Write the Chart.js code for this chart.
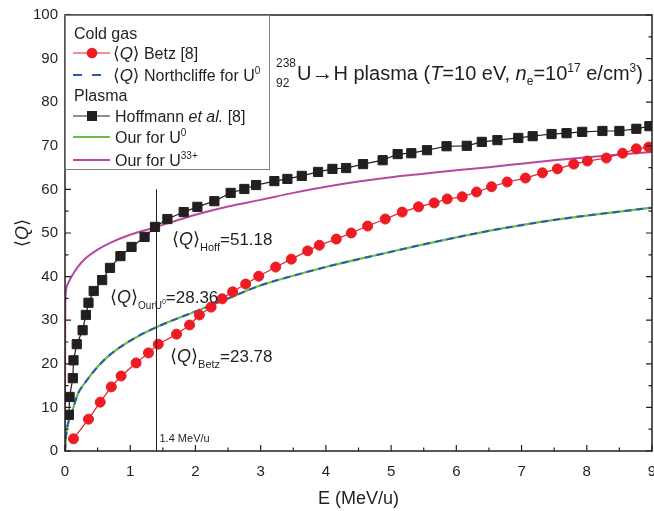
<!DOCTYPE html>
<html><head><meta charset="utf-8">
<script src="https://cdn.jsdelivr.net/npm/chart.js@4.4.1/dist/chart.umd.min.js"></script>
<style>html,body{margin:0;padding:0;background:#fff;}#wrap{width:654px;height:511px;}</style>
</head><body><div id="wrap"><canvas id="c" width="654" height="511"></canvas></div>
<script>
// ---- data ----
const betzE = [0.13,0.36,0.54,0.71,0.86,1.09,1.28,1.43,1.71,1.91,2.06,2.24,2.41,2.57,2.77,2.97,3.23,3.47,3.72,3.90,4.16,4.39,4.64,4.91,5.17,5.42,5.66,5.86,6.09,6.31,6.54,6.78,7.06,7.32,7.55,7.80,8.01,8.30,8.55,8.76,8.95];
const betzQ = [2.8,7.3,11.2,14.7,17.2,20.2,22.5,24.5,26.8,28.9,31.2,33.0,34.9,36.5,38.3,40.1,42.2,44.0,45.9,47.2,48.6,50.0,51.6,53.2,54.8,56.0,56.9,57.8,58.3,59.4,60.6,61.7,62.6,63.8,64.7,65.8,66.5,67.2,68.3,69.3,69.7];
const hoffE = [0.06,0.07,0.12,0.13,0.18,0.27,0.32,0.36,0.44,0.57,0.69,0.85,1.02,1.22,1.38,1.57,1.82,2.03,2.29,2.54,2.75,2.93,3.21,3.41,3.63,3.88,4.10,4.31,4.57,4.87,5.10,5.31,5.55,5.85,6.16,6.39,6.63,6.95,7.17,7.46,7.69,7.93,8.24,8.50,8.76,8.96];
const hoffQ = [8.3,12.4,16.7,20.8,24.5,27.7,31.2,34.0,36.7,39.2,42.0,44.7,46.8,49.1,51.4,53.2,54.8,56.0,57.3,59.2,60.1,61.0,61.9,62.4,63.1,64.0,64.7,64.9,65.8,66.7,68.1,68.3,69.0,69.9,70.0,70.9,71.3,71.8,72.2,72.7,72.9,73.2,73.4,73.4,73.9,74.5];
const northE = [0,0.02,0.05,0.1,0.2,0.3,0.5,0.7,1.0,1.4,2.0,2.5,3.0,3.5,4.0,4.5,5.0,5.5,6.0,6.5,7.0,7.5,8.0,8.5,9.0];
const northQ = [0,4,6.5,8.6,13.2,15.5,19.3,22.2,25.3,28.4,32,35,38,40.2,42.2,44,45.7,47.4,49,50.5,51.8,53,54,54.9,55.8];
const ourU0E = [0,0.02,0.05,0.1,0.2,0.3,0.5,0.7,1.0,1.4,2.0,2.5,3.0,3.5,4.0,4.5,5.0,5.5,6.0,6.5,7.0,7.5,8.0,8.5,9.0];
const ourU0Q = [0,4,6.5,8.6,13.2,15.5,19.3,22.2,25.3,28.4,32,35,38,40.2,42.2,44,45.7,47.4,49,50.5,51.8,53,54,54.9,55.8];
const ourU33E = [0,0.003,0.01,0.05,0.1,0.2,0.3,0.5,0.7,1.0,1.4,2.0,2.5,3.0,3.5,4.0,4.5,5.0,5.5,6.0,6.5,7.0,7.5,8.0,8.5,9.0];
const ourU33Q = [4,30,36,38.5,40,42.3,44,46.2,47.8,49.6,51.4,54.2,56.1,57.6,59.2,60.6,61.8,62.8,63.6,64.4,65.1,65.9,66.7,67.4,68,68.6];
const xTickVals = [0,1,2,3,4,5,6,7,8,9];
const yTickVals = [0,10,20,30,40,50,60,70,80,90,100];
const markE = 1.4, markTop = 60;
const hoffAtMark = 51.18, ourAtMark = 28.36, betzAtMark = 23.78;

const FONT = '"Liberation Sans", Arial, "DejaVu Sans", sans-serif';
const C = {red:'#ed1c24', blue:'#2b59b0', green:'#6abd45', mag:'#b8489f', blk:'#231f20'};
const zip = (a,b)=>a.map((v,i)=>({x:v,y:b[i]}));

function runs(ctx, x, y, parts){
  let cx = x;
  for (const p of parts){
    if (p.stack){
      let w = 0;
      for (const q of p.stack){ ctx.font=(q.i?'italic ':'')+q.s+'px '+FONT; ctx.fillText(q.t,cx,y+(q.dy||0)); w=Math.max(w,ctx.measureText(q.t).width); }
      cx += w + (p.dx||0); continue;
    }
    ctx.font=(p.i?'italic ':'')+p.s+'px '+FONT;
    ctx.fillText(p.t,cx,y+(p.dy||0));
    cx += ctx.measureText(p.t).width + (p.dx||0);
  }
  return cx;
}
function widthOf(ctx, parts){
  let w=0; for(const p of parts){ctx.font=(p.i?'italic ':'')+p.s+'px '+FONT; w+=ctx.measureText(p.t).width+(p.dx||0);} return w;
}
const Qb = (s)=>[{t:'\u27E8',s:s},{t:'Q',s:s,i:true},{t:'\u27E9',s:s}];

const decor = {
  id:'decor',
  afterDatasetsDraw(chart){
    const {ctx, scales:{x,y}} = chart;
    ctx.save();
    ctx.strokeStyle = C.blk; ctx.lineWidth = 1;
    const px = Math.round(x.getPixelForValue(markE))+0.5;
    ctx.beginPath(); ctx.moveTo(px, y.getPixelForValue(0)); ctx.lineTo(px, y.getPixelForValue(markTop)); ctx.stroke();
    ctx.fillStyle = C.blk; ctx.textBaseline='alphabetic'; ctx.textAlign='left';
    runs(ctx, px+3, 442, [{t:markE+' MeV/u', s:11}]);
    runs(ctx, 172, 245, [...Qb(18), {t:'Hoff',s:11,dy:6}, {t:'='+hoffAtMark.toFixed(2),s:17}]);
    runs(ctx, 110, 303, [...Qb(18), {t:'OurU',s:10,dy:6}, {t:'0',s:7,dy:1}, {t:'='+ourAtMark.toFixed(2),s:17}]);
    runs(ctx, 170, 362, [...Qb(18), {t:'Betz',s:11,dy:6}, {t:'='+betzAtMark.toFixed(2),s:17}]);
    ctx.restore();
  },
  afterDraw(chart){
    const {ctx, chartArea:a, scales:{x,y}} = chart;
    ctx.save();
    // frame
    ctx.strokeStyle = C.blk; ctx.lineWidth = 1.5;
    ctx.strokeRect(a.left, a.top, a.right-a.left, a.bottom-a.top);
    ctx.lineWidth = 1.2;
    ctx.beginPath();
    for (let i=0;i<xTickVals.length;i++){
      const v = xTickVals[i];
      const p = x.getPixelForValue(v);
      ctx.moveTo(p, a.bottom); ctx.lineTo(p, a.bottom-6);
      if (i<xTickVals.length-1){ const m = x.getPixelForValue((v+xTickVals[i+1])/2); ctx.moveTo(m,a.bottom); ctx.lineTo(m,a.bottom-3.5); }
    }
    for (let i=0;i<yTickVals.length;i++){
      const v = yTickVals[i];
      const p = y.getPixelForValue(v);
      ctx.moveTo(a.left,p); ctx.lineTo(a.left+6,p);
      ctx.moveTo(a.right,p); ctx.lineTo(a.right-6,p);
      if (i<yTickVals.length-1){ const m=y.getPixelForValue((v+yTickVals[i+1])/2);
        ctx.moveTo(a.left,m); ctx.lineTo(a.left+3.5,m); ctx.moveTo(a.right,m); ctx.lineTo(a.right-3.5,m); }
    }
    ctx.stroke();
    // axis titles
    ctx.fillStyle = C.blk; ctx.textBaseline='alphabetic';
    const xt = [{t:'E (MeV/u)', s:18}];
    runs(ctx, (a.left+a.right)/2 - widthOf(ctx,xt)/2, 504, xt);
    ctx.save(); ctx.translate(22, (a.top+a.bottom)/2); ctx.rotate(-Math.PI/2);
    const yt = Qb(18); runs(ctx, -widthOf(ctx,yt)/2, 6, yt); ctx.restore();
    // title
    runs(ctx, 276, 80, [
      {stack:[{t:'238',s:12,dy:-13},{t:'92',s:12,dy:7}], dx:1},
      {t:'U',s:20},{t:'\u2192',s:22,dy:0},{t:'H plasma (',s:20},{t:'T',s:20,i:true},{t:'=10 eV, ',s:20},{t:'n',s:20,i:true},
      {t:'e',s:12,dy:5},{t:'=10',s:20},{t:'17',s:12,dy:-8},{t:' e/cm',s:20},{t:'3',s:12,dy:-8},{t:')',s:20}
    ]);
    // legend
    const L = {x:65, y:15, w:204, h:154};
    ctx.fillStyle='#fff'; ctx.fillRect(L.x, L.y, L.w, L.h);
    ctx.strokeStyle='#808080'; ctx.lineWidth=1; ctx.strokeRect(L.x+0.5, L.y+0.5, L.w, L.h);
    const rows = [33,53,75,95,116,137,160];
    ctx.fillStyle=C.blk;
    runs(ctx, 74, rows[0]+6, [{t:'Cold gas',s:16}]);
    runs(ctx, 74, rows[3]+6, [{t:'Plasma',s:16}]);
    // Betz
    ctx.strokeStyle=C.red; ctx.lineWidth=1.2; ctx.beginPath(); ctx.moveTo(73,rows[1]); ctx.lineTo(110,rows[1]); ctx.stroke();
    ctx.fillStyle=C.red; ctx.beginPath(); ctx.arc(92,rows[1],5.3,0,Math.PI*2); ctx.fill();
    ctx.fillStyle=C.blk; runs(ctx, 113, rows[1]+6, [...Qb(17),{t:' Betz [8]',s:16}]);
    // Northcliffe
    ctx.strokeStyle=C.blue; ctx.lineWidth=2; ctx.setLineDash([9,10]); ctx.beginPath(); ctx.moveTo(73,rows[2]); ctx.lineTo(110,rows[2]); ctx.stroke(); ctx.setLineDash([]);
    runs(ctx, 113, rows[2]+6, [...Qb(17),{t:' Northcliffe for U',s:16},{t:'0',s:10,dy:-7}]);
    // Hoffmann
    ctx.strokeStyle=C.blk; ctx.lineWidth=1.2; ctx.beginPath(); ctx.moveTo(73,rows[4]); ctx.lineTo(110,rows[4]); ctx.stroke();
    ctx.fillRect(87,rows[4]-5,10,10);
    runs(ctx, 115, rows[4]+6, [{t:'Hoffmann ',s:16},{t:'et al.',s:16,i:true},{t:' [8]',s:16}]);
    // Our U0
    ctx.strokeStyle=C.green; ctx.lineWidth=2; ctx.beginPath(); ctx.moveTo(73,rows[5]); ctx.lineTo(110,rows[5]); ctx.stroke();
    runs(ctx, 115, rows[5]+6, [{t:'Our for U',s:16},{t:'0',s:10,dy:-7}]);
    // Our U33+
    ctx.strokeStyle=C.mag; ctx.lineWidth=2; ctx.beginPath(); ctx.moveTo(73,rows[6]); ctx.lineTo(110,rows[6]); ctx.stroke();
    runs(ctx, 115, rows[6]+6, [{t:'Our for U',s:16},{t:'33+',s:10,dy:-7}]);
    ctx.restore();
  }
};

new Chart(document.getElementById('c'), {
  type:'scatter',
  data:{datasets:[
    {label:'Hoffmann et al. [8]', data:zip(hoffE,hoffQ), showLine:true, borderColor:C.blk, backgroundColor:C.blk, borderWidth:1.2, pointStyle:'rect', pointRadius:6.5, pointBorderWidth:1},
    {label:'Betz [8]', data:zip(betzE,betzQ), showLine:true, borderColor:C.red, backgroundColor:C.red, borderWidth:1.2, pointStyle:'circle', pointRadius:5, pointBorderWidth:1},
    {label:'Northcliffe for U0', data:zip(northE,northQ), showLine:true, borderColor:C.blue, borderWidth:2, borderDash:[7,5], pointRadius:0, cubicInterpolationMode:'monotone'},
    {label:'Our for U0', data:zip(ourU0E,ourU0Q), showLine:true, borderColor:C.green, borderWidth:2.2, pointRadius:0, cubicInterpolationMode:'monotone'},
    {label:'Our for U33+', data:zip(ourU33E,ourU33Q), showLine:true, borderColor:C.mag, borderWidth:2, pointRadius:0, cubicInterpolationMode:'monotone'}
  ]},
  options:{
    responsive:false, animation:false, devicePixelRatio:1,
    layout:{padding:{top:15, right:2, left:0, bottom:0}, autoPadding:false},
    plugins:{legend:{display:false}, tooltip:{enabled:false}},
    scales:{
      x:{type:'linear', min:0, max:9, grid:{display:false, drawTicks:false}, border:{display:false},
         ticks:{stepSize:1, padding:12, color:C.blk, font:{family:FONT, size:15}, maxRotation:0, autoSkip:false},
         afterFit(s){ s.height=60; s.paddingLeft=0; s.paddingRight=0; },
         afterBuildTicks(s){ s.ticks = xTickVals.map(v=>({value:v})); }},
      y:{type:'linear', min:0, max:100, grid:{display:false, drawTicks:false}, border:{display:false},
         ticks:{stepSize:10, padding:7, color:C.blk, font:{family:FONT, size:15}},
         afterFit(s){ s.width=65; s.paddingTop=0; s.paddingBottom=0; },
         afterBuildTicks(s){ s.ticks = yTickVals.map(v=>({value:v})); }}
    }
  },
  plugins:[decor]
});
</script></body></html>
